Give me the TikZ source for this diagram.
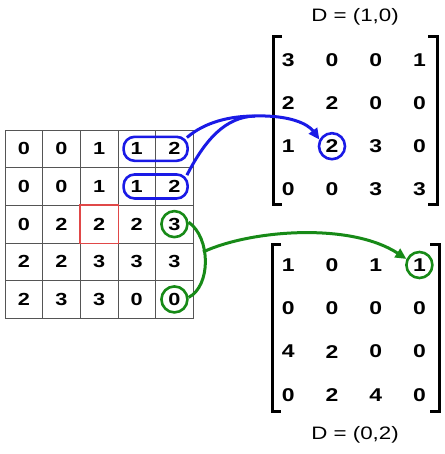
\documentclass[tikz,border=0pt]{standalone}
\usepackage{fontspec}
\setmainfont{Liberation Sans}
\usepackage{graphicx}
\usepackage{xcolor}
\definecolor{pickblue}{HTML}{1A1AE6}
\definecolor{pickgreen}{HTML}{178A17}
\definecolor{gridline}{HTML}{555555}
\definecolor{hired}{HTML}{E04848}
\usepackage{tikz}
\usetikzlibrary{
  arrows.meta,
  positioning,
  calc,
}
% the labels are set a little wider than the font
\newcommand{\widetext}[1]{\scalebox{1.24}[1]{#1}}

\begin{document}
\begin{tikzpicture}[
  x=1pt, y=-1pt,
  cell/.style={
    draw=gridline, line width=0.8pt, minimum size=37.65pt, inner sep=0pt,
    font=\bfseries\fontsize{17.5}{17.5}\selectfont,
  },
  entry/.style={
    inner sep=0pt, font=\bfseries\fontsize{18.5}{18.5}\selectfont,
  },
  title/.style={
    font=\fontsize{18}{18}\selectfont,
  },
  hilite/.style={
    draw=hired, line width=1.2pt,
  },
  bluepick/.style={
    draw=pickblue, line width=2.6pt, rounded corners=11pt,
    minimum width=64pt, minimum height=24pt, inner sep=0pt,
  },
  ring/.style={
    circle, line width=2.6pt, minimum size=26pt, inner sep=0pt,
  },
  bracket/.style={
    line width=3pt,
  },
  bluelink/.style={
    draw=pickblue, line width=3pt,
  },
  greenlink/.style={
    draw=pickgreen, line width=3pt,
  },
  tip/.style={
    -{Triangle[length=11pt,width=10pt]},
  },
]
  \useasboundingbox (0,0) rectangle (444,454);

  % Grid
  \foreach \row [count=\i] in {{0,0,1,1,2},{0,0,1,1,2},{0,2,2,2,3},{2,2,3,3,3},{2,3,3,0,0}} {
    \foreach \v [count=\j] in \row {
      \node[cell] (g\i\j) at ({5+37.65*(\j-0.5)}, {130+37.65*(\i-0.5)}) {\widetext{\v}};
    }
  }
  \draw[hilite] (g33.north west) rectangle (g33.south east);

  % Top matrix, D = (1,0)
  \node[title] (ta) at (355,17) {\widetext{D = (1,0)}};
  \foreach \row [count=\i] in {{3,0,0,1},{2,2,0,0},{1,2,3,0},{0,0,3,3}} {
    \foreach \v [count=\j] in \row {
      \node[entry] (a\i\j) at ({288.3+43.7*(\j-1)}, {60+43.1*(\i-1)}) {\widetext{\v}};
    }
  }
  \draw[bracket] (282,37) -- (273,37) -- (273,204) -- (282,204);
  \draw[bracket] (428,37) -- (437,37) -- (437,204) -- (428,204);

  % Bottom matrix, D = (0,2)
  \node[title] (tb) at (355,435) {\widetext{D = (0,2)}};
  \foreach \row [count=\i] in {{1,0,1,1},{0,0,0,0},{4,2,0,0},{0,2,4,0}} {
    \foreach \v [count=\j] in \row {
      \node[entry] (b\i\j) at ({288.3+43.7*(\j-1)}, {265+43.3*(\i-1)}) {\widetext{\v}};
    }
  }
  \draw[bracket] (281,244) -- (272,244) -- (272,411) -- (281,411);
  \draw[bracket] (430,244) -- (439,244) -- (439,411) -- (430,411);

  % Blue pairs
  \node[bluepick] (p1) at ($(g14)!0.5!(g15)$) {};
  \node[bluepick] (p2) at ($(g24)!0.5!(g25)$) {};
  \node[ring, draw=pickblue] (c1) at (a32) {};
  \coordinate (bm) at (255,116);
  \draw[bluelink] ($(p1.north east)+(-2,2)$) .. controls (205,122) and (230,116) .. (bm);
  \draw[bluelink] ($(p2.north east)+(-2,2)$) .. controls (205,140) and (225,117) .. (bm);
  \draw[bluelink, tip] (bm) .. controls (290,115) and (308,124) .. (c1.152);

  % Green pairs
  \node[ring, draw=pickgreen] (q1) at (g35) {};
  \node[ring, draw=pickgreen] (q2) at (g55) {};
  \node[ring, draw=pickgreen] (q3) at (b14) {};
  \coordinate (gm) at (203,252);
  \draw[greenlink] (q1.8) .. controls (211,238) and (211,286) .. (q2.8);
  \draw[greenlink, tip] (gm) .. controls (250,230) and (350,222) .. (q3.155);
\end{tikzpicture}
\end{document}
